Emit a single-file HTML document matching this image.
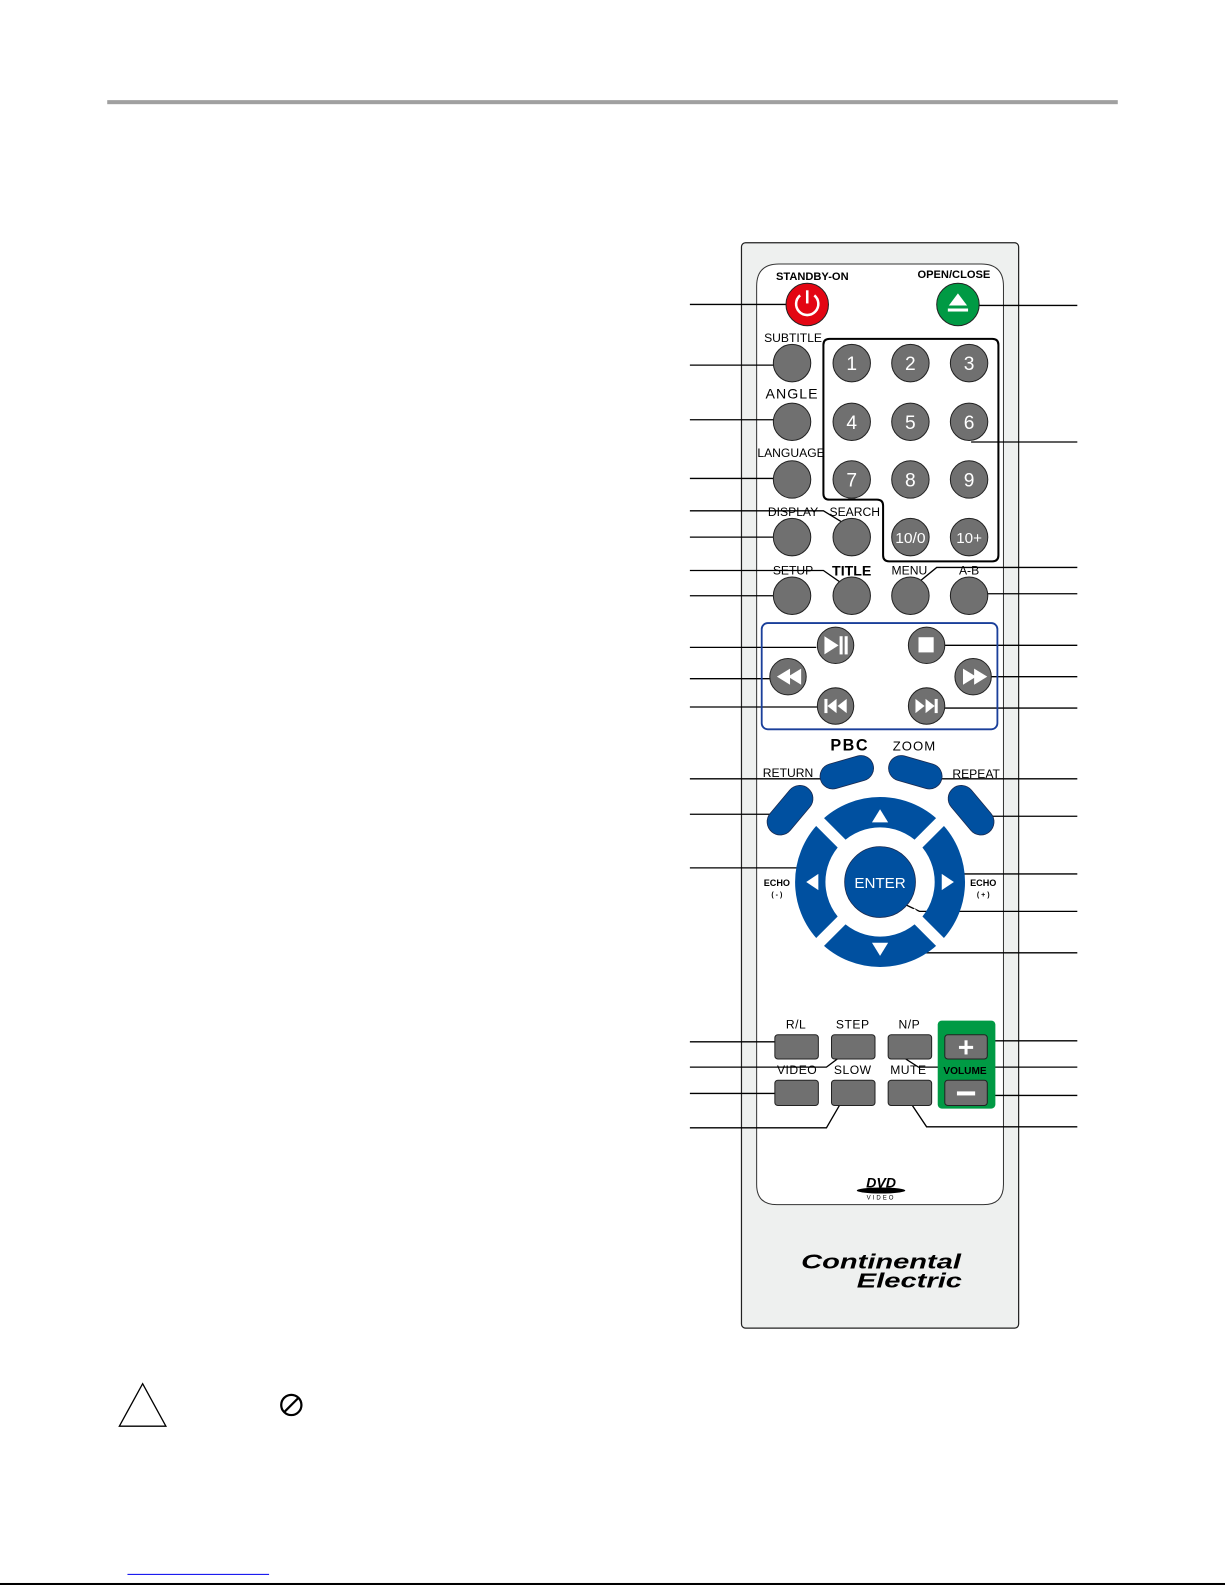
<!DOCTYPE html>
<html><head><meta charset="utf-8"><style>
html,body{margin:0;padding:0;background:#fff;}
svg{display:block;}
text{font-family:"Liberation Sans",sans-serif;}
</style></head><body>
<svg width="1225" height="1585" viewBox="0 0 1211 1567" preserveAspectRatio="none" xmlns="http://www.w3.org/2000/svg">
<rect x="106" y="99" width="999" height="4" fill="#a0a0a0"/>
<rect x="733" y="240" width="274" height="1073" rx="4" fill="#eef0ef" stroke="#222" stroke-width="1.2"/>
<path d="M748 283 Q748 261 770 261 L970 261 Q992 261 992 283 L992 1171 Q992 1191 972 1191 L768 1191 Q748 1191 748 1171 Z" fill="#fff" stroke="#333" stroke-width="1"/>
<g stroke="#000" stroke-width="1.3" fill="none">
<path d="M682 301H798"/><path d="M682 361H783"/><path d="M682 415H783"/><path d="M682 473H783"/>
<path d="M682 505H814L837 519"/><path d="M682 531H783"/>
<path d="M682 564H814L837 580"/><path d="M682 589H783"/>
<path d="M682 640H807"/><path d="M682 671H768"/><path d="M682 699H811"/>
<path d="M682 770H817"/><path d="M682 805H777"/><path d="M682 858H794"/>
<path d="M682 1030H771"/><path d="M682 1055H817L837 1040"/><path d="M682 1081H771"/><path d="M682 1115H817L835 1084"/>
<path d="M947 302H1065"/><path d="M960 437H1065"/><path d="M904 579L926 561H1065"/><path d="M958 587H1065"/>
<path d="M916 638H1065"/><path d="M962 669H1065"/><path d="M916 700H1065"/>
<path d="M924 770H1065"/><path d="M964 807H1065"/><path d="M945 864H1065"/>
<path d="M886 890L909 901H1065"/><path d="M903 942H1065"/>
<path d="M955 1029H1065"/><path d="M886 1041L908 1055H1065"/><path d="M955 1083H1065"/><path d="M896 1084L916 1114H1065"/>
</g>
<g font-size="11" font-weight="bold" text-anchor="middle" fill="#000">
<text x="803" y="277">STANDBY-ON</text><text x="943" y="275">OPEN/CLOSE</text>
</g>
<circle cx="798" cy="301" r="21" fill="#e30613" stroke="#222"/>
<path d="M791 292 A11 11 0 1 0 805 292" fill="none" stroke="#fff" stroke-width="2.5"/><path d="M798 287V300" stroke="#fff" stroke-width="2.5"/>
<circle cx="947" cy="301" r="21" fill="#009a44" stroke="#222"/>
<path d="M938 302L947 290L956 302Z" fill="#fff"/><rect x="937" y="305" width="20" height="3" fill="#fff"/>
<path d="M820 335H981Q987 335 987 341V549Q987 555 981 555H879Q873 555 873 549V500Q873 494 867 494H820Q814 494 814 488V341Q814 335 820 335Z" fill="none" stroke="#000" stroke-width="2"/>
<g font-size="12" text-anchor="middle" fill="#000">
<text x="784" y="338">SUBTITLE</text>
<text x="783" y="394" font-size="14" letter-spacing="1">ANGLE</text>
<text x="782" y="452">LANGUAGE</text>
<text x="784" y="510">DISPLAY</text><text x="845" y="510">SEARCH</text>
<text x="784" y="568">SETUP</text><text x="842" y="569" font-size="14" font-weight="bold">TITLE</text>
<text x="899" y="568">MENU</text><text x="958" y="568">A-B</text>
</g>
<g fill="#707070" stroke="#222" stroke-width="1">
<circle cx="783" cy="359" r="18.5"/><circle cx="783" cy="417" r="18.5"/><circle cx="783" cy="474" r="18.5"/>
<circle cx="783" cy="531" r="18.5"/><circle cx="842" cy="531" r="18.5"/>
<circle cx="783" cy="589" r="18.5"/><circle cx="842" cy="589" r="18.5"/><circle cx="900" cy="589" r="18.5"/><circle cx="958" cy="589" r="18.5"/>
<circle cx="842" cy="359" r="18.5"/><circle cx="900" cy="359" r="18.5"/><circle cx="958" cy="359" r="18.5"/>
<circle cx="842" cy="417" r="18.5"/><circle cx="900" cy="417" r="18.5"/><circle cx="958" cy="417" r="18.5"/>
<circle cx="842" cy="474" r="18.5"/><circle cx="900" cy="474" r="18.5"/><circle cx="958" cy="474" r="18.5"/>
<circle cx="900" cy="531" r="18.5"/><circle cx="958" cy="531" r="18.5"/>
</g>
<g font-size="19" fill="#fff" text-anchor="middle">
<text x="842" y="366">1</text><text x="900" y="366">2</text><text x="958" y="366">3</text>
<text x="842" y="424">4</text><text x="900" y="424">5</text><text x="958" y="424">6</text>
<text x="842" y="481">7</text><text x="900" y="481">8</text><text x="958" y="481">9</text>
<text x="900" y="537" font-size="15" textLength="30" lengthAdjust="spacingAndGlyphs">10/0</text><text x="958" y="537" font-size="15">10+</text>
</g>
<rect x="753" y="616" width="233" height="105" rx="6" fill="none" stroke="#1a3f9a" stroke-width="1.8"/>
<g fill="#707070" stroke="#222">
<circle cx="826" cy="638" r="18"/><circle cx="916" cy="638" r="18"/><circle cx="779" cy="669" r="18"/>
<circle cx="962" cy="669" r="18"/><circle cx="826" cy="698" r="18"/><circle cx="916" cy="698" r="18"/>
</g>
<g fill="#fff">
<path d="M815 629L829 638L815 647Z"/><rect x="830" y="629" width="3" height="18"/><rect x="835" y="629" width="3" height="18"/>
<rect x="908" y="630" width="15" height="15"/>
<path d="M781 661L768 669L781 677Z"/><path d="M792 661L779 669L792 677Z"/>
<path d="M952 661L965 669L952 677Z"/><path d="M963 661L976 669L963 677Z"/>
<rect x="815" y="691" width="3" height="14"/><path d="M827 691L818 698L827 705Z"/><path d="M837 691L828 698L837 705Z"/>
<path d="M905 691L914 698L905 705Z"/><path d="M915 691L924 698L915 705Z"/><rect x="924" y="691" width="3" height="14"/>
</g>
<text x="840" y="742" font-size="16" font-weight="bold" text-anchor="middle" letter-spacing="1.5">PBC</text>
<text x="904" y="742" font-size="13" text-anchor="middle" letter-spacing="1">ZOOM</text>
<text x="779" y="768" font-size="12" text-anchor="middle">RETURN</text>
<text x="965" y="769" font-size="12" text-anchor="middle">REPEAT</text>
<g fill="#0050a0" stroke="#1a2a50" stroke-width="0.8">
<rect x="810" y="751" width="54" height="25" rx="12.5" transform="rotate(-16 837 763)"/>
<rect x="878" y="751" width="54" height="25" rx="12.5" transform="rotate(16 905 763)"/>
<rect x="753" y="788" width="56" height="26" rx="13" transform="rotate(-50 781 801)"/>
<rect x="932" y="788" width="56" height="26" rx="13" transform="rotate(50 960 801)"/>
</g>
<circle cx="870" cy="872" r="69" fill="none" stroke="#0050a0" stroke-width="30"/>
<g stroke="#fff" stroke-width="11">
<path d="M810 812L840 842"/><path d="M930 812L900 842"/><path d="M810 932L840 902"/><path d="M930 932L900 902"/>
</g>
<circle cx="870" cy="872" r="35" fill="#0050a0" stroke="#1a2a50" stroke-width="0.8"/>
<text x="870" y="878" font-size="15" fill="#fff" text-anchor="middle">ENTER</text>
<g fill="#fff">
<path d="M862 813L878 813L870 800Z"/><path d="M862 932L878 932L870 945Z"/>
<path d="M809 864L809 880L797 872Z"/><path d="M931 864L931 880L943 872Z"/>
</g>
<g font-size="9" font-weight="bold" text-anchor="middle">
<text x="768" y="876">ECHO</text><text x="768" y="887" font-size="7">( - )</text>
<text x="972" y="876">ECHO</text><text x="972" y="887" font-size="7">( + )</text>
</g>
<rect x="927" y="1009" width="57" height="87" rx="4" fill="#009a44"/>
<g fill="#707070" stroke="#222">
<rect x="766" y="1023" width="43" height="24" rx="3"/><rect x="822" y="1023" width="43" height="24" rx="3"/><rect x="878" y="1023" width="43" height="24" rx="3"/>
<rect x="766" y="1068" width="43" height="25" rx="3"/><rect x="822" y="1068" width="43" height="25" rx="3"/><rect x="878" y="1068" width="43" height="25" rx="3"/>
<rect x="934" y="1023" width="42" height="24" rx="3"/><rect x="934" y="1068" width="42" height="25" rx="3"/>
</g>
<g fill="#fff"><rect x="948" y="1034" width="14" height="3"/><rect x="953.5" y="1028.5" width="3" height="14"/><rect x="946" y="1079" width="18" height="4"/></g>
<g font-size="12" text-anchor="middle" letter-spacing="0.5">
<text x="787" y="1017">R/L</text><text x="843" y="1017">STEP</text><text x="899" y="1017">N/P</text>
<text x="788" y="1062">VIDEO</text><text x="843" y="1062">SLOW</text><text x="898" y="1062">MUTE</text>
<text x="954" y="1062" font-size="10" font-weight="bold" letter-spacing="0">VOLUME</text>
</g>
<text x="871" y="1174" font-size="14" font-weight="bold" font-style="italic" text-anchor="middle">DVD</text>
<ellipse cx="871" cy="1177" rx="24" ry="3" fill="#000"/>
<text x="871" y="1186" font-size="6" text-anchor="middle" letter-spacing="2">VIDEO</text>
<text x="950" y="1254" font-size="20" font-weight="bold" font-style="italic" text-anchor="end" textLength="158" lengthAdjust="spacingAndGlyphs">Continental</text>
<text x="951" y="1273" font-size="20" font-weight="bold" font-style="italic" text-anchor="end" textLength="104" lengthAdjust="spacingAndGlyphs">Electric</text>
<path d="M141 1368L164 1410H118Z" fill="none" stroke="#000" stroke-width="1.3"/>
<circle cx="288" cy="1389" r="10" fill="none" stroke="#000" stroke-width="2.2"/><path d="M281 1396L295 1382" stroke="#000" stroke-width="2.2"/>
<rect x="126" y="1556" width="140" height="1" fill="#0000ee"/>
<rect x="0" y="1565" width="1211" height="2" fill="#000"/>
</svg>
</body></html>
